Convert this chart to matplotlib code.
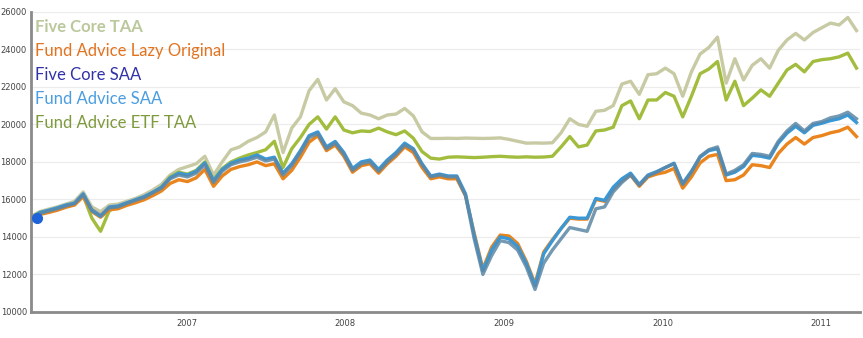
import pandas as pd
import matplotlib.pyplot as plt
import matplotlib.dates as mdates

dates = pd.date_range('2006-01-08', periods=96, freq='20D')

five_core_taa = [15100, 15350, 15480, 15600, 15750, 15900, 16400, 15600, 15350, 15700,
                 15750, 15900, 16050, 16250, 16500, 16800,
                 17300, 17600, 17750, 17900, 18300, 17300, 18000, 18640, 18800, 19100,
                 19300, 19600, 20500, 18500, 19800, 20400, 21800,
                 22400, 21300, 21900, 21200, 21000, 20600, 20500, 20300, 20500, 20550,
                 20850, 20450, 19600, 19250,
                 19250, 19260, 19250, 19270, 19260, 19250, 19260, 19280, 19200, 19100,
                 19000, 19010, 19000, 19020, 19550, 20300, 20000, 19900,
                 20700, 20750, 21000, 22150, 22300, 21600, 22650, 22700, 23000, 22700,
                 21500, 22800, 23750, 24100, 24650, 22200,
                 23500, 22370, 23150, 23500, 23000, 23950, 24500, 24850, 24500, 24900,
                 25150, 25400, 25300, 25700, 25000]

lazy_original = [14980, 15200, 15300, 15420, 15580, 15700, 16150, 15350, 15050, 15450,
                 15500, 15680, 15820, 15980, 16200, 16450,
                 16850, 17050, 16950, 17150, 17600, 16700, 17250, 17600, 17750, 17850,
                 18000, 17800, 17900, 17100, 17550, 18250, 19050,
                 19400, 18600, 18900, 18300, 17450, 17800, 17900, 17400, 17900, 18300,
                 18800, 18500, 17700, 17100, 17200, 17100, 17100, 16200,
                 14200, 12300, 13450, 14100, 14050, 13650, 12700, 11500, 13200, 13850,
                 14450, 15000, 14950, 14950,
                 16000, 15900, 16550, 17000, 17300, 16700, 17200, 17350,
                 17450, 17650, 16600, 17200, 17950, 18300, 18400, 17000,
                 17050, 17300, 17850, 17800, 17700, 18450, 18950, 19300, 18950, 19300,
                 19400, 19550, 19650, 19850, 19350]

five_core_saa = [15000, 15250, 15380, 15500, 15650, 15780, 16250, 15450, 15150, 15550,
                 15600, 15780, 15950, 16100, 16350, 16600,
                 17100, 17300, 17200, 17400, 17850, 16900, 17500, 17850, 18000, 18100,
                 18250, 18050, 18150, 17300, 17800, 18500, 19300,
                 19500, 18700, 19000, 18400, 17550, 17900, 18000, 17500, 18000, 18400,
                 18900, 18650, 17850, 17200, 17300, 17200, 17200, 16200,
                 13900, 12000, 13000, 13800, 13700, 13300, 12400, 11200, 12600, 13300,
                 13900, 14500, 14400, 14300,
                 15500, 15600, 16400, 16900, 17300, 16750, 17250, 17450,
                 17700, 17900, 16800, 17450, 18300, 18650, 18800, 17350,
                 17550, 17850, 18450, 18400, 18300, 19100, 19650, 20050, 19650, 20050,
                 20150, 20350, 20450, 20650, 20300]

fund_advice_saa = [15000, 15300, 15420, 15550, 15700, 15800, 16300, 15400, 15100, 15600,
                   15650, 15820, 15980, 16150, 16380, 16650,
                   17150, 17400, 17300, 17500, 17950, 17000, 17600, 17930, 18100, 18200,
                   18370, 18150, 18250, 17400, 17900, 18600, 19400,
                   19600, 18800, 19090, 18500, 17650, 18000, 18100, 17600, 18100, 18500,
                   19000, 18700, 17900, 17250, 17350, 17250, 17250, 16300,
                   14100, 12200, 13300, 14000, 13900, 13500, 12600, 11400, 13100, 13800,
                   14450, 15050, 15000, 15000,
                   16050, 15950, 16650, 17100, 17400, 16800, 17300, 17480,
                   17700, 17930, 16850, 17500, 18250, 18600, 18700, 17300,
                   17450, 17750, 18350, 18300, 18200, 19000, 19530, 19900, 19550, 19950,
                   20060, 20200, 20300, 20500, 20100]

etf_taa = [15050, 15300, 15400, 15500, 15650, 15750, 16200, 15000, 14300, 15400,
           15600, 15750, 15950, 16100, 16350, 16650,
           17200, 17450, 17350, 17550, 18000, 17050, 17650, 18000, 18200, 18370,
           18500, 18650, 19100, 17700, 18700, 19300, 20000,
           20400, 19750, 20400, 19700, 19550, 19650, 19620, 19800, 19600, 19450,
           19650, 19260, 18550, 18200,
           18150, 18250, 18270, 18250, 18230, 18250, 18280, 18300, 18270, 18250,
           18270, 18250, 18260, 18300, 18800, 19350, 18800, 18900,
           19650, 19700, 19850, 21000, 21250, 20300, 21300, 21300, 21700, 21500,
           20400, 21500, 22700, 22950, 23350, 21300,
           22300, 21000, 21400, 21840, 21500, 22200, 22900, 23200, 22800, 23350,
           23450, 23500, 23600, 23800, 23000]

names = ['Five Core TAA', 'Fund Advice Lazy Original', 'Five Core SAA',
         'Fund Advice SAA', 'Fund Advice ETF TAA']
text_colors = ['#bac89c', '#e2731f', '#3232a8', '#4a9de0', '#7d9a3c']

fig = plt.figure(figsize=(8.63, 3.38), dpi=100)
ax = fig.add_axes([0.036, 0.077, 0.961, 0.888])

lw = 2.4
ax.plot(dates, five_core_taa, color='#c8caa4', lw=lw)
ax.plot(dates, etf_taa, color='#a2bd3e', lw=lw)
ax.plot(dates, lazy_original, color='#ea841c', lw=lw)
ax.plot(dates, fund_advice_saa, color='#3a98d6', lw=lw)
ax.plot(dates, five_core_saa, color='#5b87a6', lw=lw, alpha=0.85)
ax.plot(dates[0] + pd.Timedelta(days=14), fund_advice_saa[0], 'o',
        color='#1f63d8', ms=7, clip_on=False, zorder=5)

ax.set_ylim(10000, 26000)
ax.set_xlim(pd.Timestamp('2006-01-08'), pd.Timestamp('2011-04-01'))
ax.set_yticks(range(10000, 26001, 2000))
ax.xaxis.set_major_locator(mdates.YearLocator())
ax.xaxis.set_major_formatter(mdates.DateFormatter('%Y'))
ax.tick_params(length=0, labelsize=6, labelcolor='#444444')
ax.tick_params(axis='y', pad=3)
ax.tick_params(axis='x', pad=5)
ax.grid(axis='y', color='#ececec', lw=0.9)
ax.set_axisbelow(True)
for s in ['top', 'right']:
    ax.spines[s].set_visible(False)
for s in ['left', 'bottom']:
    ax.spines[s].set_color('#8a8a8a')
    ax.spines[s].set_linewidth(2)

# series names written straight onto the plot area
for i, (name, c) in enumerate(zip(names, text_colors)):
    ax.text(0.005, 0.95 - i * 0.08, name, transform=ax.transAxes, color=c,
            fontsize=12, family='Lato', va='center', ha='left',
            fontweight='bold' if i == 0 else 'normal')

fig.savefig('out.png', dpi=100)
